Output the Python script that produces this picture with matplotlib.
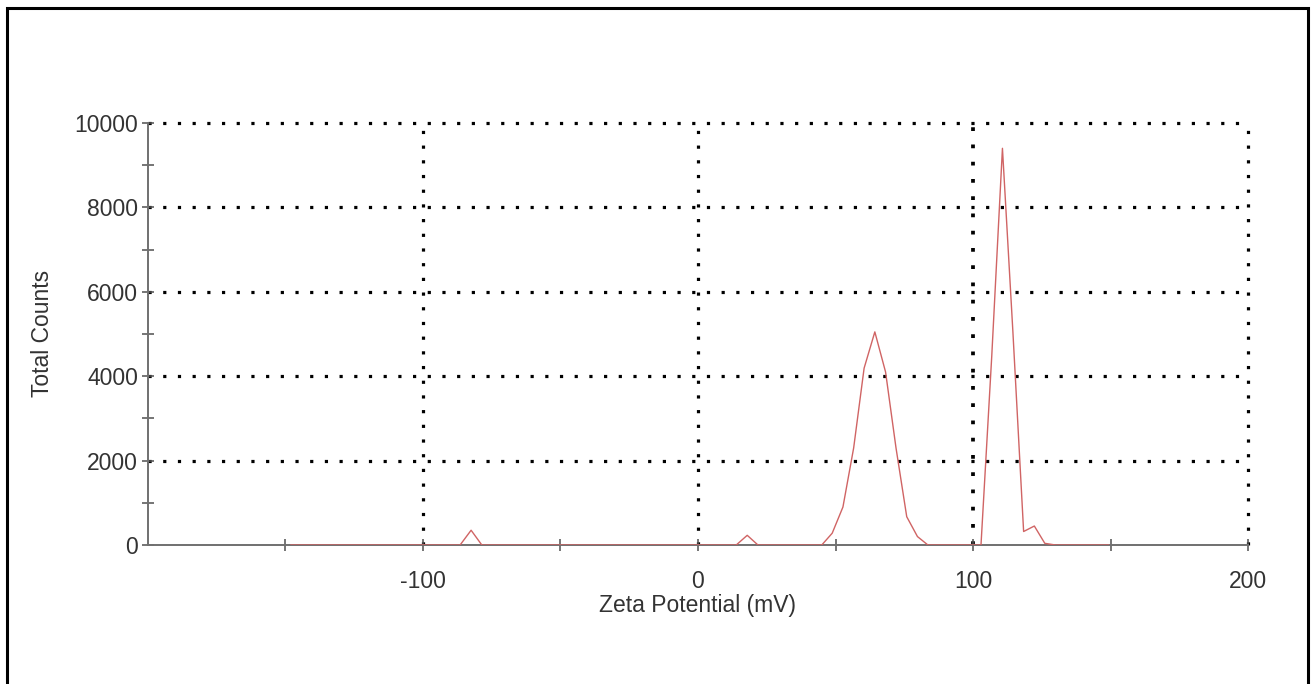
import matplotlib
matplotlib.use('Agg')
import matplotlib.pyplot as plt
from matplotlib.patches import Rectangle

plt.rcParams['font.family'] = ['Liberation Sans', 'DejaVu Sans']
plt.rcParams['axes.unicode_minus'] = False

# zeta potential distribution
zeta = [-148.0, -86.5, -82.5, -78.6, 13.9, 17.9, 21.8, 41.1, 45.0, 48.8, 52.7,
        56.6, 60.4, 64.3, 68.2, 72.0, 75.9, 79.8, 83.6, 99.1, 102.9, 106.8,
        110.7, 114.5, 118.4, 122.3, 126.1, 130.0, 149.3]
counts = [0, 0, 350, 0, 0, 230, 0, 0, 0, 280, 900,
          2300, 4190, 5050, 4100, 2300, 670, 200, 0, 0, 0, 4460,
          9400, 5050, 320, 450, 40, 0, 0]

x_major = [-100, 0, 100, 200]
x_minor = [-150, -50, 50, 150]
y_major = [0, 2000, 4000, 6000, 8000, 10000]
y_minor = [1000, 3000, 5000, 7000, 9000]

fig = plt.figure(figsize=(13.14, 6.84), dpi=100)
ax = fig.add_axes([0.1126, 0.2032, 0.8372, 0.617])

# dotted grid
dot = (0, (1, 3.6))
for yv in y_major[1:]:
    ax.plot([-200, 200], [yv, yv], color='black', lw=2.3, ls=dot, zorder=1, clip_on=False)
for xv in x_major:
    ax.plot([xv, xv], [0, 10000], color='black', lw=2.7 if xv == 100 else 2.3, ls=dot,
            zorder=1, clip_on=False)

ax.plot(zeta, counts, color='#d06464', lw=1.0, zorder=3)

ax.set_xlim(-200, 200)
ax.set_ylim(0, 10000)
ax.set_xticks(x_major)
ax.set_xticks(x_minor, minor=True)
ax.set_yticks(y_major)
ax.set_yticks(y_minor, minor=True)

for s in ['top', 'right']:
    ax.spines[s].set_visible(False)
for s in ['left', 'bottom']:
    ax.spines[s].set_color('#707070')
    ax.spines[s].set_linewidth(1.4)
    ax.spines[s].set_zorder(2)

ax.tick_params(which='both', direction='inout', length=8, width=1.1, color='#505050',
               labelsize=16.5, labelcolor='#333333')
ax.tick_params(axis='x', which='major', pad=14)
ax.tick_params(axis='y', which='major', pad=3)

fig.text(0.531, 0.115, 'Zeta Potential (mV)', ha='center', va='center', fontsize=16.5, color='#333333')
fig.text(0.032, 0.513, 'Total Counts', ha='center', va='center', rotation=90, fontsize=16.5, color='#333333')

# frame round the picture
fig.patches.append(Rectangle((7 / 1314, -0.02), 1301 / 1314, 1 - 8 / 684 + 0.02,
                             transform=fig.transFigure, fill=False, edgecolor='black',
                             lw=2.2, clip_on=False))

fig.savefig('out.png', dpi=100)
